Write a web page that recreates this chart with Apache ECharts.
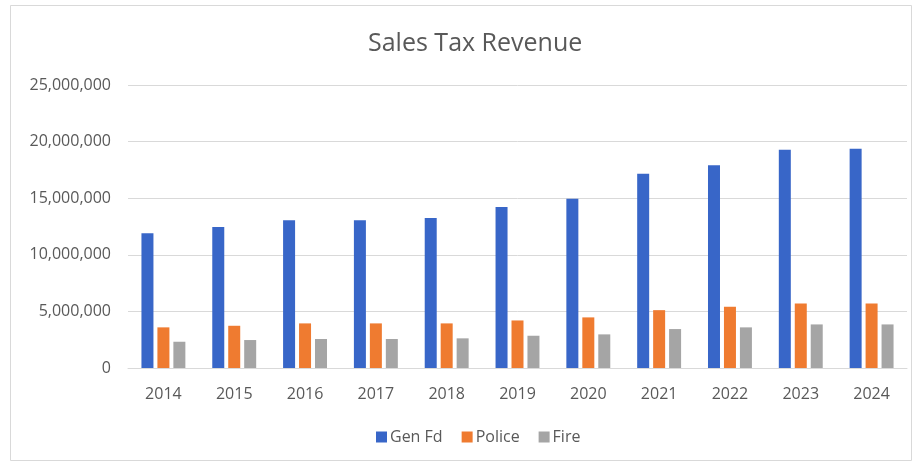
<!DOCTYPE html>
<html>
<head>
<meta charset="utf-8">
<script src="https://cdn.jsdelivr.net/npm/echarts@6/dist/echarts.min.js"></script>
<style>
  html, body { margin: 0; padding: 0; background: #ffffff; }
  #chart { width: 920px; height: 465px; }
</style>
</head>
<body>
<div id="chart"></div>
<script>
// Sales tax revenue by fund, 2014-2024
const years = ['2014', '2015', '2016', '2017', '2018', '2019', '2020', '2021', '2022', '2023', '2024'];
const genFd = [11900000, 12450000, 13050000, 13050000, 13250000, 14220000, 14960000, 17170000, 17900000, 19280000, 19370000];
const police = [3590000, 3730000, 3940000, 3940000, 3940000, 4200000, 4470000, 5110000, 5410000, 5700000, 5700000];
const fire = [2320000, 2470000, 2560000, 2560000, 2620000, 2850000, 2970000, 3440000, 3590000, 3850000, 3850000];

const textColor = '#595959';
const fontFamily = '"Open Sans", sans-serif';

const chart = echarts.init(document.getElementById('chart'), null, { renderer: 'canvas' });

chart.setOption({
  backgroundColor: '#ffffff',
  animation: false,
  textStyle: { fontFamily: fontFamily },
  title: {
    text: 'Sales Tax Revenue',
    left: 363,
    top: 26,
    textStyle: { fontSize: 25, fontWeight: 'normal', color: textColor, fontFamily: fontFamily }
  },
  graphic: [{
    type: 'rect',
    shape: { x: 10.5, y: 5.5, width: 901, height: 455 },
    style: { fill: 'none', stroke: '#d9d9d9', lineWidth: 1 },
    silent: true,
    z: -1
  }],
  legend: {
    bottom: 15,
    left: 371,
    itemWidth: 11,
    itemHeight: 11,
    itemGap: 19,
    icon: 'rect',
    textStyle: { fontSize: 16, color: textColor, fontFamily: fontFamily, padding: [0, 0, 0, -2] },
    data: ['Gen Fd', 'Police', 'Fire']
  },
  grid: { left: 128, right: 13, top: 85, bottom: 97 },
  xAxis: {
    type: 'category',
    data: years,
    axisLine: { lineStyle: { color: '#d9d9d9' } },
    axisTick: { show: false },
    axisLabel: { fontSize: 16, color: textColor, margin: 18, fontFamily: fontFamily }
  },
  yAxis: {
    type: 'value',
    min: 0,
    max: 25000000,
    interval: 5000000,
    axisLine: { show: false },
    axisTick: { show: false },
    splitLine: { lineStyle: { color: '#d9d9d9' } },
    axisLabel: {
      fontSize: 16,
      color: textColor,
      margin: 17,
      fontFamily: fontFamily,
      formatter: v => v.toLocaleString('en-US')
    }
  },
  series: [
    { name: 'Gen Fd', type: 'bar', data: genFd, barWidth: 12, barGap: '33%', itemStyle: { color: '#3866c8' } },
    { name: 'Police', type: 'bar', data: police, barWidth: 12, barGap: '33%', itemStyle: { color: '#ef7b30' } },
    { name: 'Fire', type: 'bar', data: fire, barWidth: 12, barGap: '33%', itemStyle: { color: '#a5a5a5' } }
  ]
});
</script>
</body>
</html>
